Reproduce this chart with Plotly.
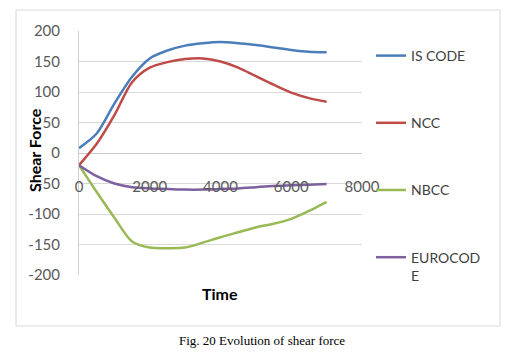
import plotly.graph_objects as go

time = [0, 500, 1000, 1500, 2000, 2500, 3000, 3500, 4000, 4500, 5000, 5500, 6000, 6500, 7000]
is_code = [8, 32, 81, 125, 155, 168, 176, 180, 182, 180, 177, 173, 169, 166, 165]
ncc = [-20, 15, 62, 116, 140, 149, 154, 155, 150, 140, 126, 112, 99, 90, 84]
nbcc = [-20, -64, -106, -145, -155, -156, -155, -147, -138, -130, -122, -116, -108, -95, -80]
eurocode = [-20, -38, -50, -56, -58, -59, -60, -60, -59, -58, -56, -54, -53, -52, -51]

series = [
    ("IS CODE", is_code, "#4a7ebb"),
    ("NCC", ncc, "#be4b48"),
    ("NBCC", nbcc, "#98b954"),
    ("EUROCOD<br>E", eurocode, "#7d60a0"),
]
x_ticks = [0, 2000, 4000, 6000, 8000]
y_ticks = [-200, -150, -100, -50, 0, 50, 100, 150, 200]

fig = go.Figure()
for i, (name, vals, color) in enumerate(series):
    fig.add_trace(go.Scatter(
        x=time, y=vals, name=name, mode="lines",
        line=dict(color=color, width=2.5, shape="spline", smoothing=0.8),
        legendgroup=f"g{i}",
    ))
# invisible trace to drive the tick-label axis
fig.add_trace(go.Scatter(x=[0, 8000], y=[0, 0], xaxis="x2", mode="lines",
                         line=dict(width=0), showlegend=False, hoverinfo="skip"))

font = "Lato, 'Open Sans', sans-serif"
W, H = 524, 357
OFF = 8  # page body margin
# plot area in screen coordinates
SL, SR, ST, SB = 79, 362, 31, 275
pw, ph = SR - SL, SB - ST

def px_x(p):
    return (p - SL) / pw

def px_y(p):
    return (SB - p) / ph

fig.update_layout(
    width=W, height=H,
    margin=dict(l=SL - OFF, r=W - (SR - OFF), t=ST - OFF, b=H - (SB - OFF), pad=0),
    paper_bgcolor="white", plot_bgcolor="white",
    showlegend=True,
    legend=dict(
        x=px_x(371), y=px_y(40), xanchor="left", yanchor="top",
        font=dict(family=font, size=14, color="#404040"),
        tracegroupgap=46, valign="top", bgcolor="rgba(0,0,0,0)",
        maxheight=400,
    ),
    xaxis=dict(range=[0, 8000], showgrid=False, showticklabels=False,
               zeroline=False, showline=False, fixedrange=True),
    xaxis2=dict(range=[0, 8000], overlaying="x", anchor="free",
                position=px_y(176), side="bottom", tickvals=x_ticks,
                ticktext=[str(v) for v in x_ticks],
                showgrid=False, zeroline=False, showline=False, ticks="",
                tickfont=dict(family=font, size=15, color="#595959")),
    yaxis=dict(range=[-200, 200], tickvals=y_ticks,
               ticktext=[str(v) for v in y_ticks],
               showgrid=True, gridcolor="#d9d9d9", gridwidth=1,
               zeroline=True, zerolinecolor="#c8c8c8", zerolinewidth=1,
               showline=True, linecolor="#d0d0d0", linewidth=1,
               ticks="", ticklabelstandoff=15,
               tickfont=dict(family=font, size=15, color="#595959")),
    shapes=[dict(type="rect", xref="paper", yref="paper",
                 x0=px_x(16), x1=px_x(500), y0=px_y(326), y1=px_y(10),
                 line=dict(color="#d9d9d9", width=1), fillcolor="rgba(0,0,0,0)",
                 layer="below")],
    annotations=[
        dict(text="<b>Shear Force</b>", xref="paper", yref="paper",
             x=px_x(34), y=px_y(150), textangle=-90, showarrow=False,
             xanchor="center", yanchor="middle",
             font=dict(family=font, size=16, color="black")),
        dict(text="<b>Time</b>", xref="paper", yref="paper",
             x=px_x(220), y=px_y(293), showarrow=False,
             xanchor="center", yanchor="middle",
             font=dict(family=font, size=16, color="black")),
        dict(text="Fig. 20 Evolution of shear force", xref="paper", yref="paper",
             x=px_x(262), y=px_y(340), showarrow=False,
             xanchor="center", yanchor="middle",
             font=dict(family="'Liberation Serif', 'Times New Roman', serif",
                       size=13, color="black")),
    ],
)

fig.write_html("out.html")
